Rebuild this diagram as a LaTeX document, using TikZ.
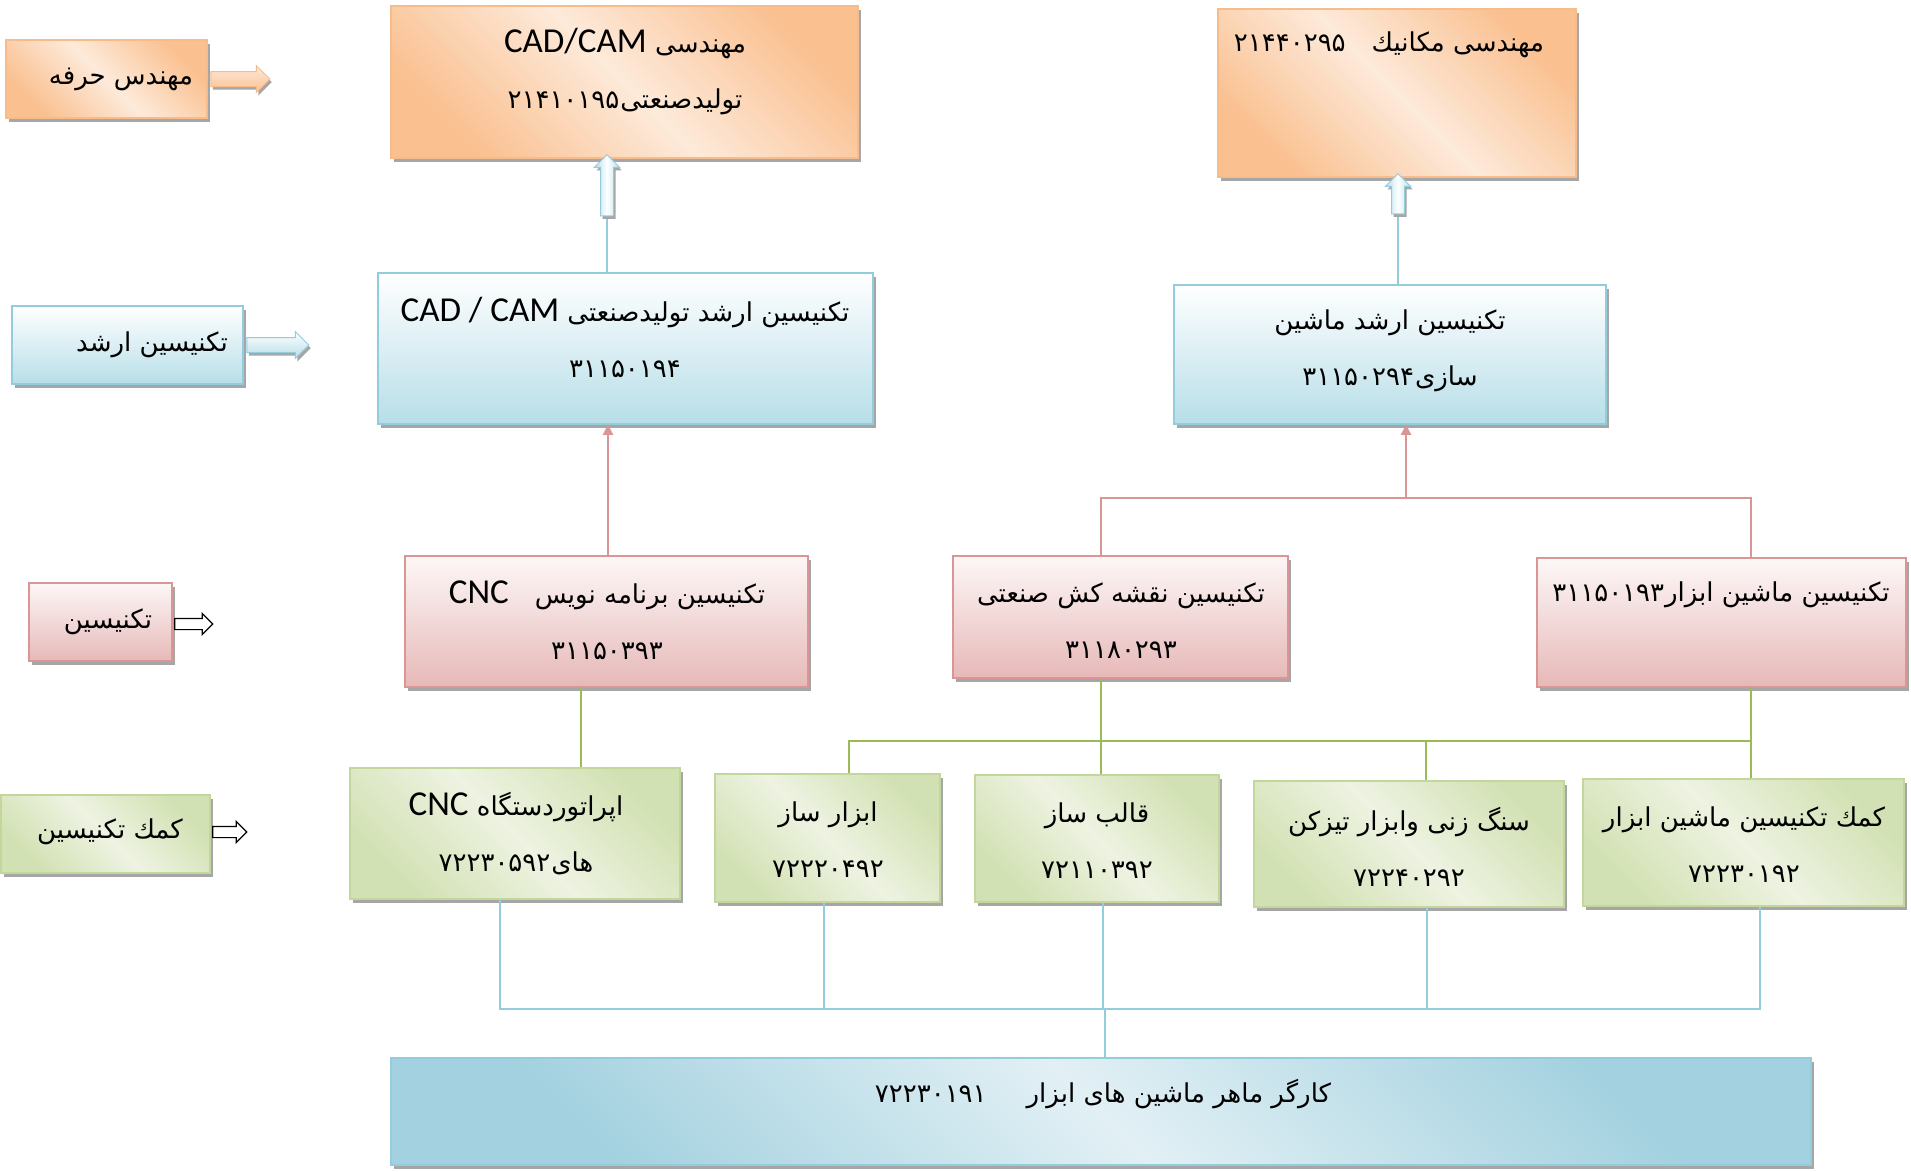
\documentclass[tikz,border=0pt]{standalone}
\usepackage{fontspec}
\usetikzlibrary{shapes.arrows,shadows,arrows.meta}
\TeXXeTstate=1
\newfontfamily\fa[Script=Arabic]{DejaVu Sans}
\newfontfamily\la{Carlito}
\newcommand{\RL}[1]{\beginR #1\endR}
\newcommand{\LT}[1]{\beginL{\la\fontsize{35}{56}\selectfont #1}\endL}
\definecolor{orD}{HTML}{FAC090}
\definecolor{orL}{HTML}{FDEADA}
\definecolor{orB}{HTML}{F7BC8C}
\definecolor{blB}{HTML}{93CDDD}
\definecolor{blD}{HTML}{B7DEE8}
\definecolor{pkB}{HTML}{D99694}
\definecolor{pkD}{HTML}{E6B9B8}
\definecolor{pkL}{HTML}{FDF7F7}
\definecolor{grB}{HTML}{C3D69B}
\definecolor{grD}{HTML}{D2E1B3}
\definecolor{grL}{HTML}{EEF3E2}
\definecolor{grLn}{HTML}{9BBB59}
\definecolor{wkD}{HTML}{A3D1DF}
\definecolor{wkL}{HTML}{E2F0F5}
\definecolor{shd}{HTML}{A6A6A6}
\tikzset{
  box/.style={draw, line width=1.5pt, rectangle, inner sep=0pt,
    drop shadow={shadow xshift=3pt, shadow yshift=-4pt, fill=shd, opacity=1}},
  orbox/.style={box, draw=orB, left color=orD, right color=orD, middle color=orL, shading angle=-45},
  blbox/.style={box, draw=blB, top color=white, bottom color=blD},
  pkbox/.style={box, draw=pkB, top color=pkL, bottom color=pkD},
  grbox/.style={box, draw=grB, left color=grD, right color=grD, middle color=grL, shading angle=-45},
  wkbox/.style={box, draw=blB, left color=wkD, right color=wkD, middle color=wkL, shading angle=-45},
  txt/.style={font=\fa\fontsize{26}{56}\selectfont, inner sep=0pt, align=center},
  blln/.style={draw=blB, line width=2pt},
  pkln/.style={draw=pkB, line width=2pt},
  grln/.style={draw=grLn, line width=2pt},
  tip/.style={-{Triangle[width=10pt,length=10pt]}},
  fatarrow/.style={single arrow, inner sep=7pt, single arrow head extend=6pt,
    single arrow head indent=0pt, line width=1pt,
    drop shadow={shadow xshift=2pt, shadow yshift=-3pt, fill=shd, opacity=1}},
  hollowarrow/.style={single arrow, draw=black, fill=white, inner sep=5pt,
    single arrow head extend=5pt, line width=1.2pt},
}
\begin{document}
\begin{tikzpicture}[x=1pt,y=-1pt]
\fill[white] (0,0) rectangle (1911,1171);
\path[use as bounding box] (0,0) rectangle (1911,1171);

% boxes
\node[orbox, minimum width=201pt, minimum height=78pt] (lblEng) at (106.5,79) {};
\node[orbox, minimum width=467pt, minimum height=152pt] (engCAD) at (624.5,82) {};
\node[orbox, minimum width=358pt, minimum height=168pt] (engMech) at (1397,93) {};
\node[blbox, minimum width=231pt, minimum height=78pt] (lblSen) at (127.5,345) {};
\node[blbox, minimum width=495pt, minimum height=151pt] (senCAD) at (625.5,348.5) {};
\node[blbox, minimum width=432pt, minimum height=139pt] (senMach) at (1390,354.5) {};
\node[pkbox, minimum width=143pt, minimum height=78pt] (lblTech) at (100.5,622) {};
\node[pkbox, minimum width=403pt, minimum height=131pt] (techCNC) at (606.5,621.5) {};
\node[pkbox, minimum width=335pt, minimum height=122pt] (techDraft) at (1120.5,617) {};
\node[pkbox, minimum width=369pt, minimum height=129pt] (techMT) at (1721.5,622.5) {};
\node[grbox, minimum width=209pt, minimum height=78pt] (lblAsst) at (105.5,834) {};
\node[grbox, minimum width=330pt, minimum height=131pt] (aCNC) at (515,833.5) {};
\node[grbox, minimum width=225pt, minimum height=128pt] (aTool) at (827.5,838) {};
\node[grbox, minimum width=244pt, minimum height=127pt] (aMold) at (1097,838.5) {};
\node[grbox, minimum width=310pt, minimum height=126pt] (aGrind) at (1409,844) {};
\node[grbox, minimum width=321pt, minimum height=127pt] (aMT) at (1743.5,842.5) {};
\node[wkbox, minimum width=1420pt, minimum height=107pt] (worker) at (1101,1111.5) {};

% texts
\node[txt] (lblEng-t) at (121,79) {\RL{مهندس حرفه}};
\node[txt] (engCAD-t) at (625,72) {\RL{مهندسی \LT{CAD/CAM}}\\\RL{تولیدصنعتی\kern1pt ۲۱۴۱۰۱۹۵}};
\node[txt] (engMech-t) at (1389,45) {\RL{مهندسی مکانیك\quad ۲۱۴۴۰۲۹۵}};
\node[txt] (lblSen-t) at (152,345) {\RL{تکنیسین ارشد}};
\node[txt] (senCAD-t) at (625,337) {\RL{تکنیسین ارشد تولیدصنعتی \LT{CAD / CAM}}\\\RL{۳۱۱۵۰۱۹۴}};
\node[txt] (senMach-t) at (1390,351) {\RL{تکنیسین ارشد ماشین}\\\RL{سازی\kern1pt ۳۱۱۵۰۲۹۴}};
\node[txt] (lblTech-t) at (108,622) {\RL{تکنیسین}};
\node[txt] (techCNC-t) at (607,620) {\RL{تکنیسین برنامه نویس\quad\LT{CNC}}\\\RL{۳۱۱۵۰۳۹۳}};
\node[txt] (techDraft-t) at (1121,621) {\RL{تکنیسین نقشه کش صنعتی}\\\RL{۳۱۱۸۰۲۹۳}};
\node[txt] (techMT-t) at (1721,595) {\RL{تکنیسین ماشین ابزار\kern1pt ۳۱۱۵۰۱۹۳}};
\node[txt] (lblAsst-t) at (110,832) {\RL{کمك تکنیسین}};
\node[txt] (aCNC-t) at (516,833.5) {\RL{اپراتوردستگاه \LT{CNC}}\\\RL{های\kern1pt ۷۲۲۳۰۵۹۲}};
\node[txt] (aTool-t) at (828,840) {\RL{ابزار ساز}\\\RL{۷۲۲۲۰۴۹۲}};
\node[txt] (aMold-t) at (1097,841) {\RL{قالب ساز}\\\RL{۷۲۱۱۰۳۹۲}};
\node[txt] (aGrind-t) at (1409,846.5) {\RL{سنگ زنی وابزار تیزکن}\\\RL{۷۲۲۴۰۲۹۲}};
\node[txt] (aMT-t) at (1744,845) {\RL{کمك تکنیسین ماشین ابزار}\\\RL{۷۲۲۳۰۱۹۲}};
\node[txt] (worker-t) at (1103,1094) {\RL{کارگر ماهر ماشین های ابزار\hspace{40pt}۷۲۲۳۰۱۹۱}};

% label arrows
\node[fatarrow, draw=orB, top color=orL, bottom color=orD, minimum height=59pt] (arEng) at (236.5,79) {};
\node[fatarrow, draw=blB, top color=white, bottom color=blD, minimum height=62pt] (arSen) at (274,345) {};
\node[hollowarrow, minimum height=38pt] (arTech) at (191,624) {};
\node[hollowarrow, minimum height=34pt] (arAsst) at (227,832) {};

% blue up arrows
\coordinate (c1) at (607,219);
\draw[blln] (c1 |- senCAD.north) -- (c1);
\node[fatarrow, draw=blB, left color=blD, right color=blD, middle color=white, rotate=90, inner sep=6pt, minimum height=61pt] (up1) at (607,188.5) {};
\coordinate (c2) at (1398,217);
\draw[blln] (c2 |- senMach.north) -- (c2);
\node[fatarrow, draw=blB, left color=blD, right color=blD, middle color=white, rotate=90, inner sep=6pt, minimum height=40pt] (up2) at (1398,197) {};

% pink connectors
\coordinate (p1) at (608,500);
\draw[pkln, tip] (p1 |- techCNC.north) -- (p1 |- senCAD.south);
\coordinate (pL) at (1101,498);
\coordinate (pR) at (1751,498);
\coordinate (pM) at (1406,498);
\draw[pkln] (pL |- techDraft.north) -- (pL) -- (pR) -- (pR |- techMT.north);
\draw[pkln, tip] (pM) -- (pM |- senMach.south);

% green connectors
\coordinate (g0) at (581,720);
\draw[grln] (g0 |- techCNC.south) -- (g0 |- aCNC.north);
\coordinate (gL) at (849,741);
\coordinate (gD) at (1101,741);
\coordinate (gG) at (1426,741);
\coordinate (gR) at (1751,741);
\draw[grln] (gD |- techDraft.south) -- (gD |- aMold.north);
\draw[grln] (gL |- aTool.north) -- (gL) -- (gR);
\draw[grln] (gR |- techMT.south) -- (gR |- aMT.north);
\draw[grln] (gG) -- (gG |- aGrind.north);

% blue bottom connectors
\coordinate (b1) at (500,1009);
\coordinate (b2) at (824,1009);
\coordinate (b3) at (1103,1009);
\coordinate (b4) at (1427,1009);
\coordinate (b5) at (1760,1009);
\coordinate (bm) at (1105,1009);
\draw[blln] (b1 |- aCNC.south) -- (b1) -- (b5) -- (b5 |- aMT.south);
\draw[blln] (b2 |- aTool.south) -- (b2);
\draw[blln] (b3 |- aMold.south) -- (b3);
\draw[blln] (b4 |- aGrind.south) -- (b4);
\draw[blln] (bm) -- (bm |- worker.north);
\end{tikzpicture}
\end{document}
